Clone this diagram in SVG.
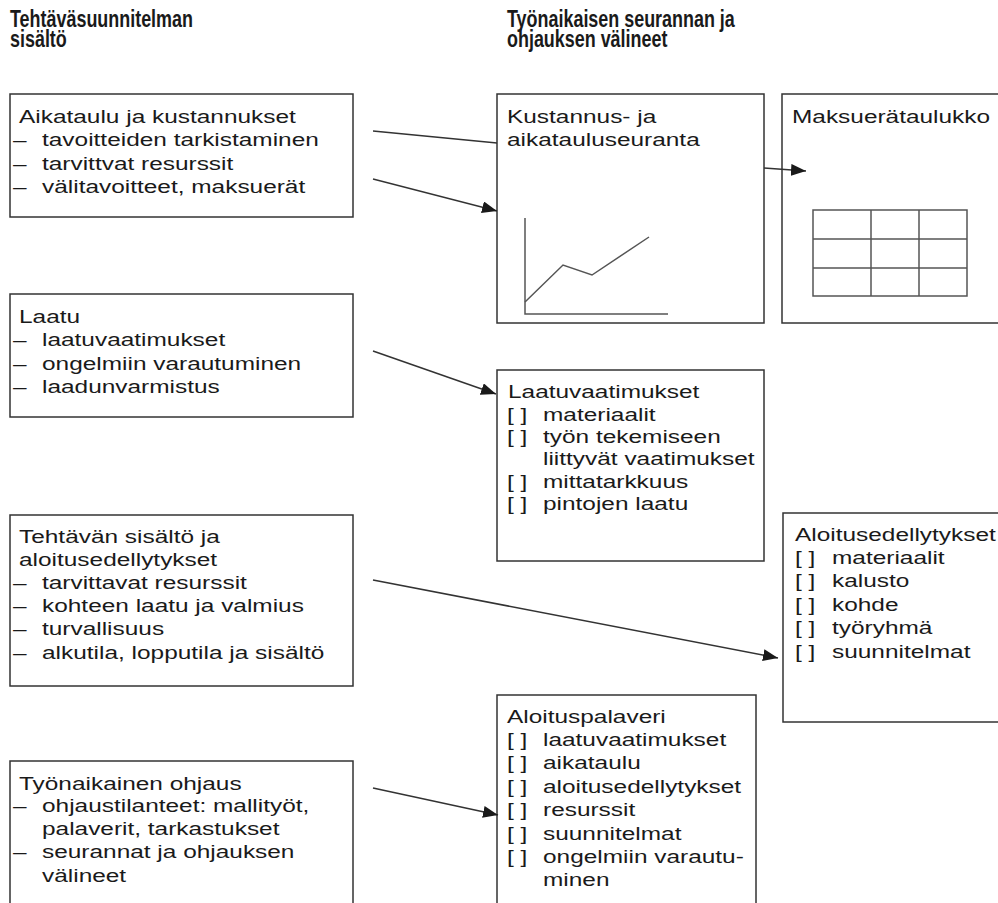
<svg xmlns="http://www.w3.org/2000/svg" width="998" height="903" viewBox="0 0 998 903">
<style>
  .box{fill:#fff;stroke:#333;stroke-width:1.5}
  .t{font-family:"Liberation Sans",Arial,sans-serif;font-size:18.5px;fill:#1a1a1a}
  .h{font-family:"Liberation Sans",Arial,sans-serif;font-size:23px;font-weight:bold;fill:#1a1a1a}
  .c{fill:none;stroke:#333;stroke-width:1.5}
  .g{fill:none;stroke:#555;stroke-width:1.5}
</style>
<defs>
  <marker id="ah" markerUnits="userSpaceOnUse" markerWidth="16" markerHeight="12" refX="15" refY="6" orient="auto">
    <path d="M0,0 L15,6 L0,12 z" fill="#1a1a1a"/>
  </marker>
</defs>
<rect width="998" height="903" fill="#fff"/>

<g id="headers">
  <text class="h" transform="translate(10 27) scale(0.78 1)">Tehtäväsuunnitelman</text>
  <text class="h" transform="translate(10 47) scale(0.78 1)">sisältö</text>
  <text class="h" transform="translate(507 27) scale(0.78 1)">Työnaikaisen seurannan ja</text>
  <text class="h" transform="translate(507 47) scale(0.78 1)">ohjauksen välineet</text>
</g>

<g id="aikataulu">
  <rect class="box" x="10" y="94" width="343" height="123"/>
  <text class="t" transform="translate(19 123) scale(1.32 1)">Aikataulu ja kustannukset</text>
  <text class="t" transform="translate(13 146) scale(1.32 1)">–</text>
  <text class="t" transform="translate(42 146) scale(1.32 1)">tavoitteiden tarkistaminen</text>
  <text class="t" transform="translate(13 170) scale(1.32 1)">–</text>
  <text class="t" transform="translate(42 170) scale(1.32 1)">tarvittvat resurssit</text>
  <text class="t" transform="translate(13 193) scale(1.32 1)">–</text>
  <text class="t" transform="translate(42 193) scale(1.32 1)">välitavoitteet, maksuerät</text>
</g>

<g id="laatu">
  <rect class="box" x="10" y="294" width="343" height="123"/>
  <text class="t" transform="translate(19 323) scale(1.32 1)">Laatu</text>
  <text class="t" transform="translate(13 346) scale(1.32 1)">–</text>
  <text class="t" transform="translate(42 346) scale(1.32 1)">laatuvaatimukset</text>
  <text class="t" transform="translate(13 370) scale(1.32 1)">–</text>
  <text class="t" transform="translate(42 370) scale(1.32 1)">ongelmiin varautuminen</text>
  <text class="t" transform="translate(13 393) scale(1.32 1)">–</text>
  <text class="t" transform="translate(42 393) scale(1.32 1)">laadunvarmistus</text>
</g>

<g id="tehtavan">
  <rect class="box" x="10" y="515" width="343" height="171"/>
  <text class="t" transform="translate(19 543) scale(1.32 1)">Tehtävän sisältö ja</text>
  <text class="t" transform="translate(19 566) scale(1.32 1)">aloitusedellytykset</text>
  <text class="t" transform="translate(13 589) scale(1.32 1)">–</text>
  <text class="t" transform="translate(42 589) scale(1.32 1)">tarvittavat resurssit</text>
  <text class="t" transform="translate(13 612) scale(1.32 1)">–</text>
  <text class="t" transform="translate(42 612) scale(1.32 1)">kohteen laatu ja valmius</text>
  <text class="t" transform="translate(13 635) scale(1.32 1)">–</text>
  <text class="t" transform="translate(42 635) scale(1.32 1)">turvallisuus</text>
  <text class="t" transform="translate(13 659) scale(1.32 1)">–</text>
  <text class="t" transform="translate(42 659) scale(1.32 1)">alkutila, lopputila ja sisältö</text>
</g>

<g id="tyonaikainen">
  <rect class="box" x="10" y="761" width="343" height="160"/>
  <text class="t" transform="translate(19 790) scale(1.32 1)">Työnaikainen ohjaus</text>
  <text class="t" transform="translate(13 812) scale(1.32 1)">–</text>
  <text class="t" transform="translate(42 812) scale(1.32 1)">ohjaustilanteet: mallityöt,</text>
  <text class="t" transform="translate(42 835) scale(1.32 1)">palaverit, tarkastukset</text>
  <text class="t" transform="translate(13 858) scale(1.32 1)">–</text>
  <text class="t" transform="translate(42 858) scale(1.32 1)">seurannat ja ohjauksen</text>
  <text class="t" transform="translate(42 882) scale(1.32 1)">välineet</text>
</g>

<g id="kustannus">
  <rect class="box" x="497" y="94" width="267" height="229"/>
  <text class="t" transform="translate(507 123) scale(1.32 1)">Kustannus- ja</text>
  <text class="t" transform="translate(507 146) scale(1.32 1)">aikatauluseuranta</text>
  <polyline class="g" points="525,218 525,314 668,314"/>
  <polyline class="g" points="525,302 563,265 592,275 649,237"/>
</g>

<g id="maksuera">
  <rect class="box" x="782" y="94" width="240" height="229"/>
  <text class="t" transform="translate(792 123) scale(1.32 1)">Maksuerätaulukko</text>
  <rect class="g" x="813" y="210" width="154" height="86"/>
  <line class="g" x1="871" y1="210" x2="871" y2="296"/>
  <line class="g" x1="919" y1="210" x2="919" y2="296"/>
  <line class="g" x1="813" y1="239" x2="967" y2="239"/>
  <line class="g" x1="813" y1="268" x2="967" y2="268"/>
</g>

<g id="laatuvaatimukset">
  <rect class="box" x="497" y="370" width="267" height="191"/>
  <text class="t" transform="translate(508 398) scale(1.32 1)">Laatuvaatimukset</text>
  <text class="t" transform="translate(507 421) scale(1.32 1)">[ ]</text>
  <text class="t" transform="translate(543 421) scale(1.32 1)">materiaalit</text>
  <text class="t" transform="translate(507 443) scale(1.32 1)">[ ]</text>
  <text class="t" transform="translate(543 443) scale(1.32 1)">työn tekemiseen</text>
  <text class="t" transform="translate(543 465) scale(1.32 1)">liittyvät vaatimukset</text>
  <text class="t" transform="translate(507 488) scale(1.32 1)">[ ]</text>
  <text class="t" transform="translate(543 488) scale(1.32 1)">mittatarkkuus</text>
  <text class="t" transform="translate(507 510) scale(1.32 1)">[ ]</text>
  <text class="t" transform="translate(543 510) scale(1.32 1)">pintojen laatu</text>
</g>

<g id="aloitusedellytykset">
  <rect class="box" x="783" y="513" width="240" height="209"/>
  <text class="t" transform="translate(795 541) scale(1.32 1)">Aloitusedellytykset</text>
  <text class="t" transform="translate(795 564) scale(1.32 1)">[ ]</text>
  <text class="t" transform="translate(832 564) scale(1.32 1)">materiaalit</text>
  <text class="t" transform="translate(795 587) scale(1.32 1)">[ ]</text>
  <text class="t" transform="translate(832 587) scale(1.32 1)">kalusto</text>
  <text class="t" transform="translate(795 611) scale(1.32 1)">[ ]</text>
  <text class="t" transform="translate(832 611) scale(1.32 1)">kohde</text>
  <text class="t" transform="translate(795 634) scale(1.32 1)">[ ]</text>
  <text class="t" transform="translate(832 634) scale(1.32 1)">työryhmä</text>
  <text class="t" transform="translate(795 658) scale(1.32 1)">[ ]</text>
  <text class="t" transform="translate(832 658) scale(1.32 1)">suunnitelmat</text>
</g>

<g id="aloituspalaveri">
  <rect class="box" x="497" y="695" width="259" height="230"/>
  <text class="t" transform="translate(507 723) scale(1.32 1)">Aloituspalaveri</text>
  <text class="t" transform="translate(507 746) scale(1.32 1)">[ ]</text>
  <text class="t" transform="translate(543 746) scale(1.32 1)">laatuvaatimukset</text>
  <text class="t" transform="translate(507 769) scale(1.32 1)">[ ]</text>
  <text class="t" transform="translate(543 769) scale(1.32 1)">aikataulu</text>
  <text class="t" transform="translate(507 793) scale(1.32 1)">[ ]</text>
  <text class="t" transform="translate(543 793) scale(1.32 1)">aloitusedellytykset</text>
  <text class="t" transform="translate(507 816) scale(1.32 1)">[ ]</text>
  <text class="t" transform="translate(543 816) scale(1.32 1)">resurssit</text>
  <text class="t" transform="translate(507 840) scale(1.32 1)">[ ]</text>
  <text class="t" transform="translate(543 840) scale(1.32 1)">suunnitelmat</text>
  <text class="t" transform="translate(507 863) scale(1.32 1)">[ ]</text>
  <text class="t" transform="translate(543 863) scale(1.32 1)">ongelmiin varautu-</text>
  <text class="t" transform="translate(543 886) scale(1.32 1)">minen</text>
</g>

<g id="connectors">
  <line class="c" x1="373" y1="131" x2="497" y2="143"/>
  <line class="c" x1="373" y1="179" x2="497" y2="211" marker-end="url(#ah)"/>
  <line class="c" x1="764" y1="168" x2="806" y2="171" marker-end="url(#ah)"/>
  <line class="c" x1="373" y1="351" x2="496" y2="394" marker-end="url(#ah)"/>
  <line class="c" x1="373" y1="580" x2="778" y2="658" marker-end="url(#ah)"/>
  <line class="c" x1="373" y1="788" x2="498" y2="815" marker-end="url(#ah)"/>
</g>
</svg>
